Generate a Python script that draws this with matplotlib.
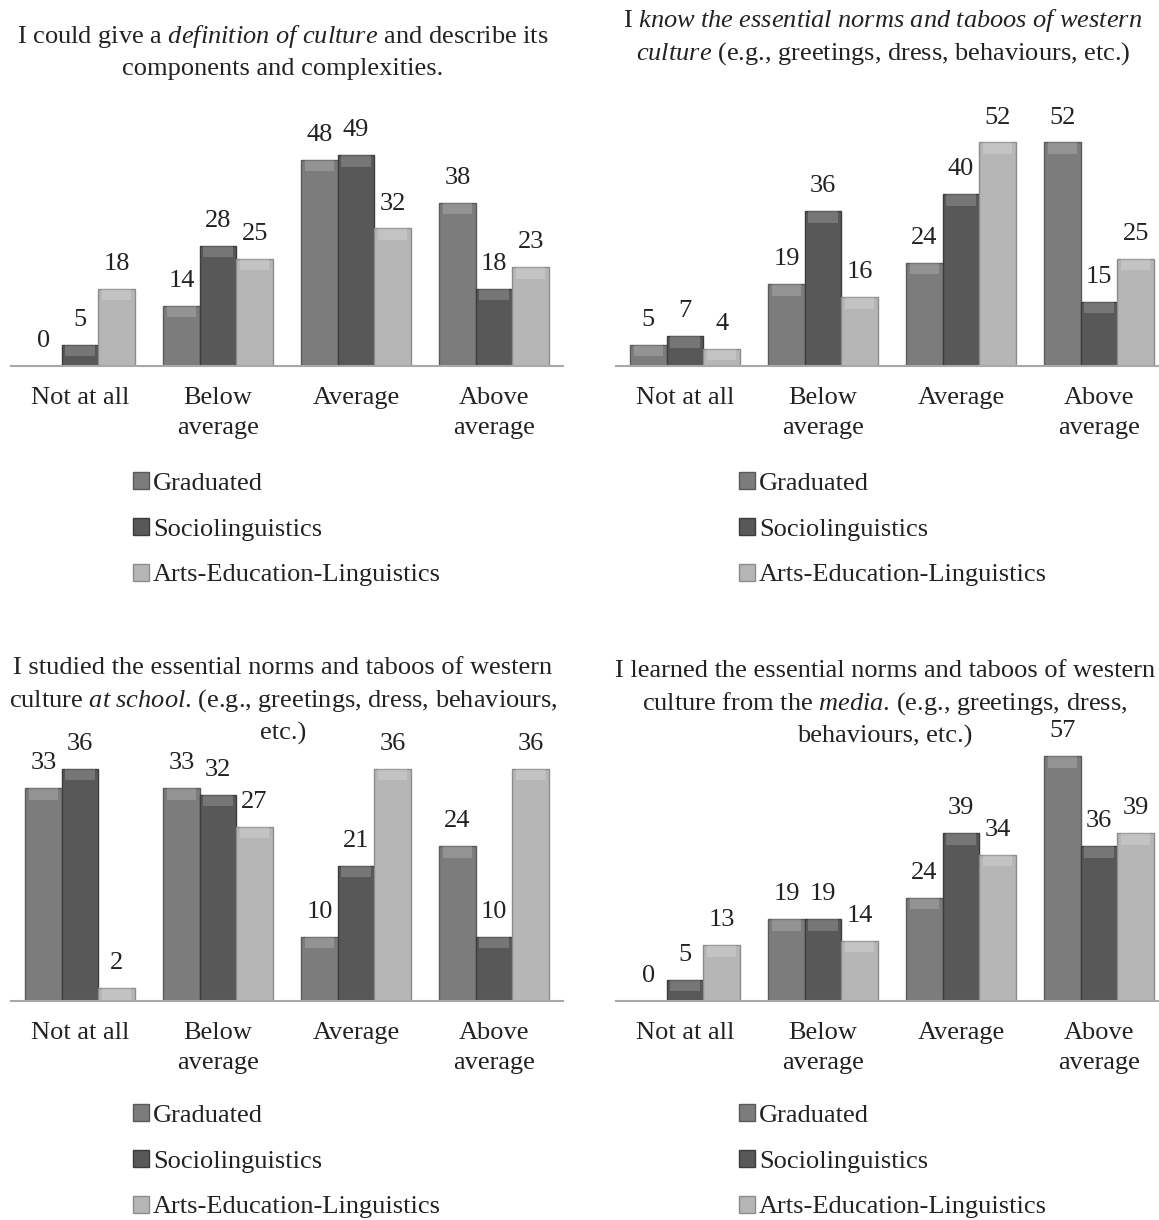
import matplotlib
matplotlib.use("Agg")
import matplotlib.pyplot as plt
import numpy as np

plt.rcParams['font.family'] = ['Liberation Serif', 'DejaVu Serif']
plt.rcParams['mathtext.fontset'] = 'custom'
plt.rcParams['mathtext.rm'] = 'Liberation Serif'
plt.rcParams['mathtext.it'] = 'Liberation Serif:italic'

categories = ["Not at all", "Below\naverage", "Average", "Above\naverage"]
series = ["Graduated", "Sociolinguistics", "Arts-Education-Linguistics"]

definition_grad = [0, 14, 48, 38]
definition_socio = [5, 28, 49, 18]
definition_arts = [18, 25, 32, 23]

norms_grad = [5, 19, 24, 52]
norms_socio = [7, 36, 40, 15]
norms_arts = [4, 16, 52, 25]

school_grad = [33, 33, 10, 24]
school_socio = [36, 32, 21, 10]
school_arts = [2, 27, 36, 36]

media_grad = [0, 19, 24, 57]
media_socio = [5, 19, 39, 36]
media_arts = [13, 14, 34, 39]

titles = [
    ["I could give a $\\it{definition\\ of\\ culture}$ and describe its",
     "components and complexities."],
    ["I $\\it{know\\ the\\ essential\\ norms\\ and\\ taboos\\ of\\ western}$",
     "$\\it{culture}$ (e.g., greetings, dress, behaviours, etc.)"],
    ["I studied the essential norms and taboos of western",
     "culture $\\it{at\\ school}$. (e.g., greetings, dress, behaviours,",
     "etc.)"],
    ["I learned the essential norms and taboos of western",
     "culture from the $\\it{media}$. (e.g., greetings, dress,",
     "behaviours, etc.)"],
]
ymax = [60, 60, 40, 60]

colors = ["#7c7c7c", "#585858", "#b6b6b6"]
edges = ["#5a5a5a", "#3c3c3c", "#8c8c8c"]

panels = [
    (definition_grad, definition_socio, definition_arts),
    (norms_grad, norms_socio, norms_arts),
    (school_grad, school_socio, school_arts),
    (media_grad, media_socio, media_arts),
]

W, H = 1159, 1220
fig = plt.figure(figsize=(W / 100, H / 100), dpi=100)

ax_left = [11, 616, 11, 616]
ax_base = [366, 366, 1001, 1001]
ax_w, ax_h = 552, 258
title_y0 = [36, 21, 668, 671]
title_cx = [283, 883, 283, 885]
legend_x = [133, 739, 133, 739]
legend_y = [472, 472, 1104, 1104]

fs = 19
x = np.arange(len(categories))
bw = 0.265

for i, data in enumerate(panels):
    ax = fig.add_axes([ax_left[i] / W, (H - ax_base[i]) / H, ax_w / W, ax_h / H])
    handles = []
    for j, vals in enumerate(data):
        bars = ax.bar(x + (j - 1) * bw, vals, bw, color=colors[j], edgecolor=edges[j],
                      linewidth=1.0, label=series[j])
        cap = [min(v, ymax[i] * 0.045) for v in vals]
        ax.bar(x + (j - 1) * bw, cap, bw * 0.8,
               bottom=[v - c for v, c in zip(vals, cap)],
               color="white", alpha=0.18, linewidth=0)
        handles.append(bars)
        for xi, v in zip(x + (j - 1) * bw, vals):
            ax.annotate(str(v), (xi, v), xytext=(0, 10), textcoords="offset points",
                        ha="center", va="bottom", fontsize=fs, color="#222222")
    ax.set_xlim(-0.5, 3.5)
    ax.set_ylim(0, ymax[i])
    ax.set_xticks(x)
    ax.set_xticklabels(categories, fontsize=fs, color="#222222", linespacing=1.5)
    ax.tick_params(axis="x", length=0, pad=15)
    ax.set_yticks([])
    for s in ["top", "right", "left"]:
        ax.spines[s].set_visible(False)
    ax.spines["bottom"].set_color("#a8a8a8")
    ax.spines["bottom"].set_linewidth(1.5)
    ax.patch.set_alpha(0)

    for k, line in enumerate(titles[i]):
        fig.text(title_cx[i] / W, 1 - (title_y0[i] + 32.5 * k) / H, line, ha="center",
                 va="center", fontsize=fs, color="#222222")

    leg = fig.legend(handles, series, loc="upper left",
                     bbox_to_anchor=(legend_x[i] / W, 1 - legend_y[i] / H),
                     frameon=False, fontsize=fs, handlelength=0.6, handleheight=0.6,
                     handletextpad=0.15, labelspacing=0.88, borderaxespad=0,
                     borderpad=0)
    for t in leg.get_texts():
        t.set_color("#222222")

fig.savefig("out.png", dpi=100)
